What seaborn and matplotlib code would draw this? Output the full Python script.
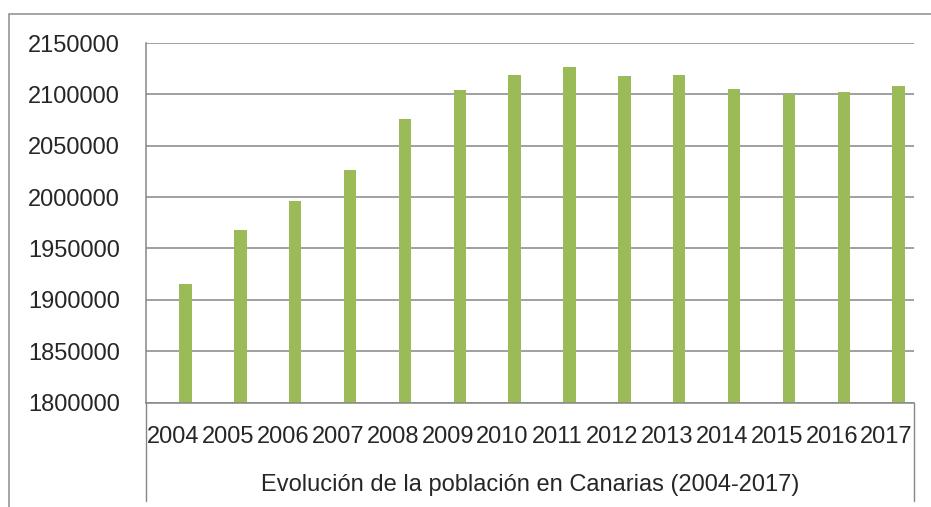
import numpy as np
import pandas as pd
import matplotlib
matplotlib.use("Agg")
import matplotlib.pyplot as plt
from matplotlib.patches import Rectangle
import seaborn as sns

years = ["2004", "2005", "2006", "2007", "2008", "2009", "2010",
         "2011", "2012", "2013", "2014", "2015", "2016", "2017"]
population = [1915540, 1968280, 1995833, 2025951, 2075968, 2103992, 2118519,
              2126769, 2118344, 2118679, 2104815, 2100306, 2101924, 2108121]
y_ticks = [1800000, 1850000, 1900000, 1950000, 2000000, 2050000, 2100000, 2150000]
axis_title = "Evolución de la población en Canarias (2004-2017)"

sns.set_style("white")
plt.rcParams["font.family"] = ["Liberation Sans", "DejaVu Sans"]

GREEN = "#9BBB59"
GRAY = "#868686"

W, H = 931, 507
fig = plt.figure(figsize=(W / 100, H / 100), dpi=100)
left, right, top, bottom = 146, 914, 43, 402.5
ax = fig.add_axes([left / W, 1 - bottom / H, (right - left) / W, (bottom - top) / H])

df = pd.DataFrame({"year": years, "pop": population})
sns.barplot(data=df, x="year", y="pop", color=GREEN, saturation=1,
            width=0.226, ax=ax, edgecolor="none")

n = len(years)
offset = -0.72  # left edge of the first category relative to its bar
ax.set_xlim(offset, n + offset)
ax.set_ylim(y_ticks[0], y_ticks[-1])
ax.set_yticks(y_ticks)
ax.set_yticklabels([str(v) for v in y_ticks], fontsize=17)
ax.yaxis.grid(True, color=GRAY, lw=1.1)
ax.set_axisbelow(True)

centers = np.arange(n) + offset + 0.5
bounds = np.arange(n + 1) + offset
ax.set_xticks(centers, labels=years, fontsize=17)
ax.set_xticks(bounds, minor=True)
ax.tick_params(axis="x", which="major", length=0, pad=17)
ax.tick_params(axis="x", which="minor", length=35, width=1.0, color=GRAY, direction="out")
ax.tick_params(axis="y", which="major", length=5.8, width=1.1, color=GRAY,
               direction="out", pad=13)
ax.set_xlabel("")
ax.set_ylabel("")

for s in ["top", "right"]:
    ax.spines[s].set_visible(False)
for s in ["left", "bottom"]:
    ax.spines[s].set_color(GRAY)
    ax.spines[s].set_linewidth(1.1)

ext = 98 / (bottom - top)
for xa in (0, 1):
    ax.plot([xa, xa], [0, -ext], transform=ax.transAxes, clip_on=False,
            color=GRAY, lw=1.0)

ax.text(0.5, -(485 - bottom) / (bottom - top), axis_title, transform=ax.transAxes,
        ha="center", va="center", fontsize=17)

fig.add_artist(Rectangle((9 / W, -0.1), 1.2, 1 - 14 / H + 0.1,
                         transform=fig.transFigure, fill=False,
                         edgecolor="#8c8c8c", lw=1.1))

fig.savefig("out.png", dpi=100)
